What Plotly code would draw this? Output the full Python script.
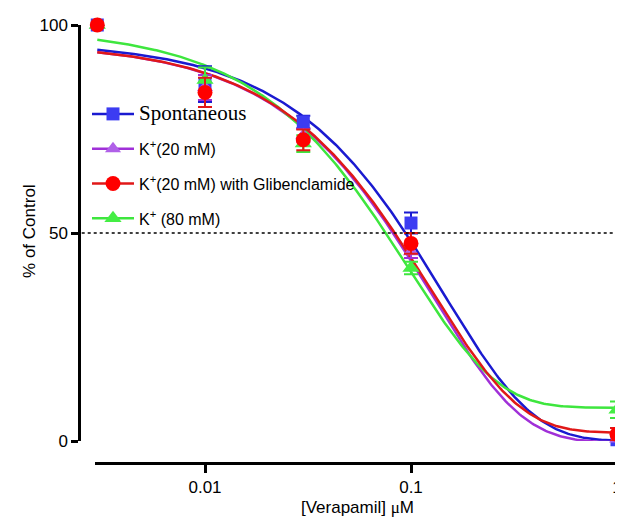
import numpy as np
import plotly.graph_objects as go

# ---- data ----
conc = [0.003, 0.01, 0.03, 0.1, 1.0]

spont_y = [100, 85.8, 76.7, 52.4, 0.3]
spont_err = [0, 4.3, 1.5, 2.5, 1.2]
k20_y = [100, 85.0, 73.5, 45.5, 0.5]
k20_err = [0, 3.0, 1.5, 1.5, 1.0]
k20g_y = [100, 83.8, 72.4, 47.5, 1.6]
k20g_err = [0, 3.5, 2.5, 2.5, 1.5]
k80_y = [100, 86.8, 71.5, 41.6, 7.5]
k80_err = [0, 3.0, 2.0, 1.5, 2.0]

# one-phase exponential decay fits
# (Y0, plateau, rate constant K per uM)
spont_fit = [96.0, 0.0, 6.93]
k20_fit = [95.7, -0.3, 7.9]
k20g_fit = [95.7, 2.0, 8.02]
k80_fit = [99.2, 8.0, 10.28]

x_ticks = [0.01, 0.1, 1]
x_tick_text = ["0.01", "0.1", "1"]
y_ticks = [0, 50, 100]

names = [
    '<span style="font-family:Liberation Serif;font-size:21px">Spontaneous</span>',
    "K<sup>+</sup>(20 mM)",
    "K<sup>+</sup>(20 mM) with Glibenclamide",
    "K<sup>+</sup> (80 mM)",
]
y_title = "% of Control"
x_title = '[Verapamil] <span style="font-family:Liberation Serif">μ</span>M'

BLUE_L, BLUE_M = "#1a1ad0", "#3c3cf2"
PURP_L, PURP_M = "#a030d8", "#b060e8"
RED_L, RED_M = "#e01818", "#ff0000"
GRN_L, GRN_M = "#3ee63e", "#44ee44"


def decay(x, p):
    y0, plateau, k = p
    return plateau + (y0 - plateau) * np.exp(-k * x)


xc = np.logspace(np.log10(0.003), 0, 300)

fig = go.Figure()

series = [
    (spont_y, spont_err, spont_fit, BLUE_L, BLUE_M, "square", 13),
    (k20_y, k20_err, k20_fit, PURP_L, PURP_M, "triangle-up", 14),
    (k80_y, k80_err, k80_fit, GRN_L, GRN_M, "triangle-up", 15),
    (k20g_y, k20g_err, k20g_fit, RED_L, RED_M, "circle", 15),
]

# curves first
for ys, err, fit, lc, mc, sym, sz in series:
    fig.add_trace(go.Scatter(
        x=xc, y=decay(xc, fit), mode="lines",
        line=dict(color=lc, width=2.5), showlegend=False,
        hoverinfo="skip", cliponaxis=False))

# then markers with error bars
for ys, err, fit, lc, mc, sym, sz in series:
    fig.add_trace(go.Scatter(
        x=conc, y=ys, mode="markers",
        marker=dict(symbol=sym, size=sz, color=mc, line=dict(width=0)),
        error_y=dict(type="data", array=err, color=lc, thickness=2, width=7),
        showlegend=False, cliponaxis=False))

# legend entries (marker + line), in the reference order
legend_items = [
    (names[0], BLUE_L, BLUE_M, "square", 13),
    (names[1], PURP_L, PURP_M, "triangle-up", 14),
    (names[2], RED_L, RED_M, "circle", 15),
    (names[3], GRN_L, GRN_M, "triangle-up", 15),
]
for i, (nm, lc, mc, sym, sz) in enumerate(legend_items):
    fig.add_trace(go.Scatter(
        x=[None], y=[None], mode="lines+markers", name=nm,
        legendgroup="g%d" % i,
        line=dict(color=lc, width=2.5),
        marker=dict(symbol=sym, size=sz, color=mc)))

# dotted 50% line
fig.add_shape(type="line", xref="paper", yref="y", x0=0.005, x1=1, y0=50, y1=50,
              line=dict(color="black", width=1.6, dash="dot"))

# page body has an 8px default margin: lay the figure out in window pixels minus 8,
# and keep the page from overflowing the 623x525 window
OFF = 8
W, H = 623 - OFF, 525 - 2 * OFF
yaxis_px = 79 - OFF        # y axis line x
xaxis_end_px = 620 - OFF   # x axis right end
top_px = 25 - OFF          # y = 100
xline_px = 463 - OFF       # x axis line y
x_start_px = 95 - OFF      # x axis left end
y0_px = 441 - OFF          # y = 0
legend_top_px = 97 - OFF
legend_left_px = 87 - OFF
ytitle_px = 30 - OFF

ml, mr, mt, mb = yaxis_px, W - xaxis_end_px, top_px, H - xline_px
pw = W - ml - mr
ph = H - mt - mb

# y-axis title (placed as a rotated annotation beside the offset axis)
fig.add_annotation(text=y_title, textangle=-90, showarrow=False,
                   xref="paper", x=(ytitle_px - ml) / pw, xanchor="center",
                   yref="y", y=50.5, yanchor="middle",
                   font=dict(size=17, color="black"))

fig.update_layout(
    width=W, height=H,
    margin=dict(l=ml, r=mr, t=mt, b=mb, autoexpand=False),
    paper_bgcolor="white", plot_bgcolor="white",
    font=dict(family="Liberation Sans, Arial, sans-serif", size=16, color="black"),
    showlegend=True,
    legend=dict(x=(legend_left_px - ml) / pw, y=(H - mb - legend_top_px) / ph,
                xanchor="left", yanchor="top",
                bgcolor="rgba(0,0,0,0)", font=dict(size=16),
                tracegroupgap=11, itemwidth=42),
    xaxis=dict(
        type="log",
        domain=[(x_start_px - ml) / pw, 1],
        range=[-2.534, 0.0146],
        anchor="free", position=0, automargin=True,
        showgrid=False, zeroline=False,
        showline=True, linecolor="black", linewidth=2.5,
        ticks="outside", ticklen=8, tickwidth=2.5, tickcolor="black",
        tickvals=x_ticks, ticktext=x_tick_text,
        tickfont=dict(size=17), ticklabeloverflow="allow",
        title=dict(text=x_title, font=dict(size=17), standoff=10),
    ),
    yaxis=dict(
        domain=[(H - mb - y0_px) / ph, 1],
        range=[0, 100],
        anchor="free", position=0, automargin=True,
        showgrid=False, zeroline=False,
        showline=True, linecolor="black", linewidth=2.5,
        ticks="outside", ticklen=7, tickwidth=2.5, tickcolor="black",
        tickvals=y_ticks, tickfont=dict(size=17),
    ),
)

fig.write_html("out.html")
